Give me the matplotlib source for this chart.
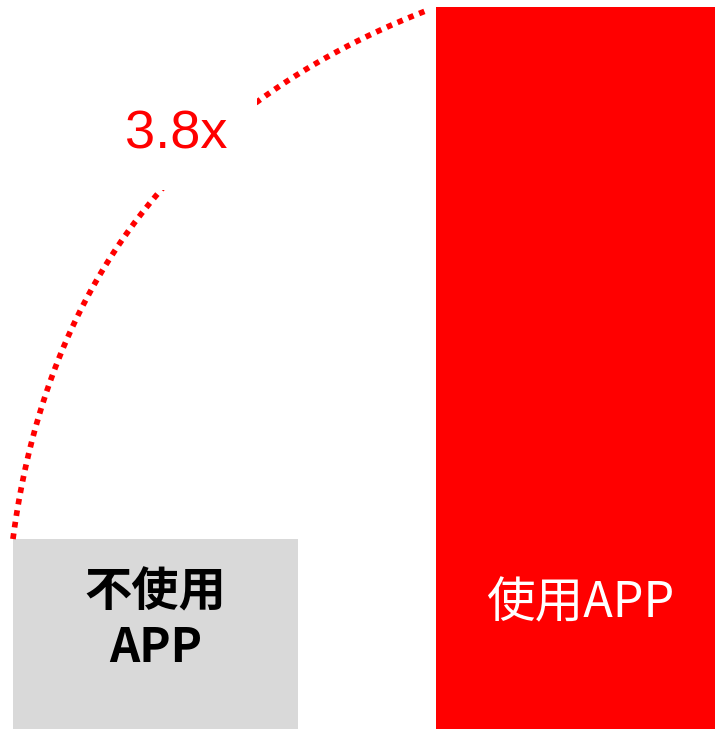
import matplotlib
matplotlib.use("Agg")
import matplotlib.pyplot as plt
from matplotlib.transforms import IdentityTransform
import numpy as np

# Two groups: without / with the app
labels = ["不使用\nAPP", "使用APP"]
values = [1.0, 3.8]
bar_colors = ["#D9D9D9", "#FF0000"]
text_colors = ["black", "white"]

ratio = values[1] / values[0]

fig = plt.figure(figsize=(7.15, 7.29), dpi=100)
ax = fig.add_axes([0, 0, 1, 1])

x = [0, 1]
width = 0.674
ax.bar(x, values, width=width, color=bar_colors, zorder=2)

ax.set_xlim(-0.3676, 1.3227)
ax.set_ylim(0, values[1] / (722 / 729))
ax.axis("off")

cjk = ["Noto Sans CJK SC", "DejaVu Sans"]

# labels inside bars
ax.text(x[0], 0.574, labels[0], ha="center", va="center", fontsize=34,
        color=text_colors[0], family=cjk, weight="bold", linespacing=1.2,
        zorder=4)
ax.text(x[1] + 0.005, 0.66, labels[1], ha="center", va="center",
        fontsize=35, color=text_colors[1], family=cjk, weight="medium",
        zorder=4)

# dotted arc (quadratic bezier, pixel space) joining the bar tops
g_left = x[0] - width / 2
r_left = x[1] - width / 2
p0 = ax.transData.transform((g_left, values[0]))
p2 = ax.transData.transform((r_left, values[1]))
mid = (p0 + p2) / 2
d = p2 - p0
rad = -0.3
ctrl = mid + rad * np.array([d[1], -d[0]])
t = np.linspace(0, 0.985, 300)[:, None]
curve = (1 - t) ** 2 * p0 + 2 * (1 - t) * t * ctrl + t ** 2 * p2
ax.plot(curve[:, 0], curve[:, 1], transform=IdentityTransform(),
        color="#FF0000", lw=4.1, linestyle=(0, (1, 1.05)),
        dash_capstyle="butt", zorder=3)

ax.text(0.246, 0.815, "%.1fx" % ratio, transform=ax.transAxes,
        ha="center", va="center", fontsize=39, color="#FF0000",
        family="Liberation Sans", zorder=5,
        bbox=dict(boxstyle="square,pad=0.55", fc="white", ec="none"))

fig.savefig("out.png", dpi=100)
